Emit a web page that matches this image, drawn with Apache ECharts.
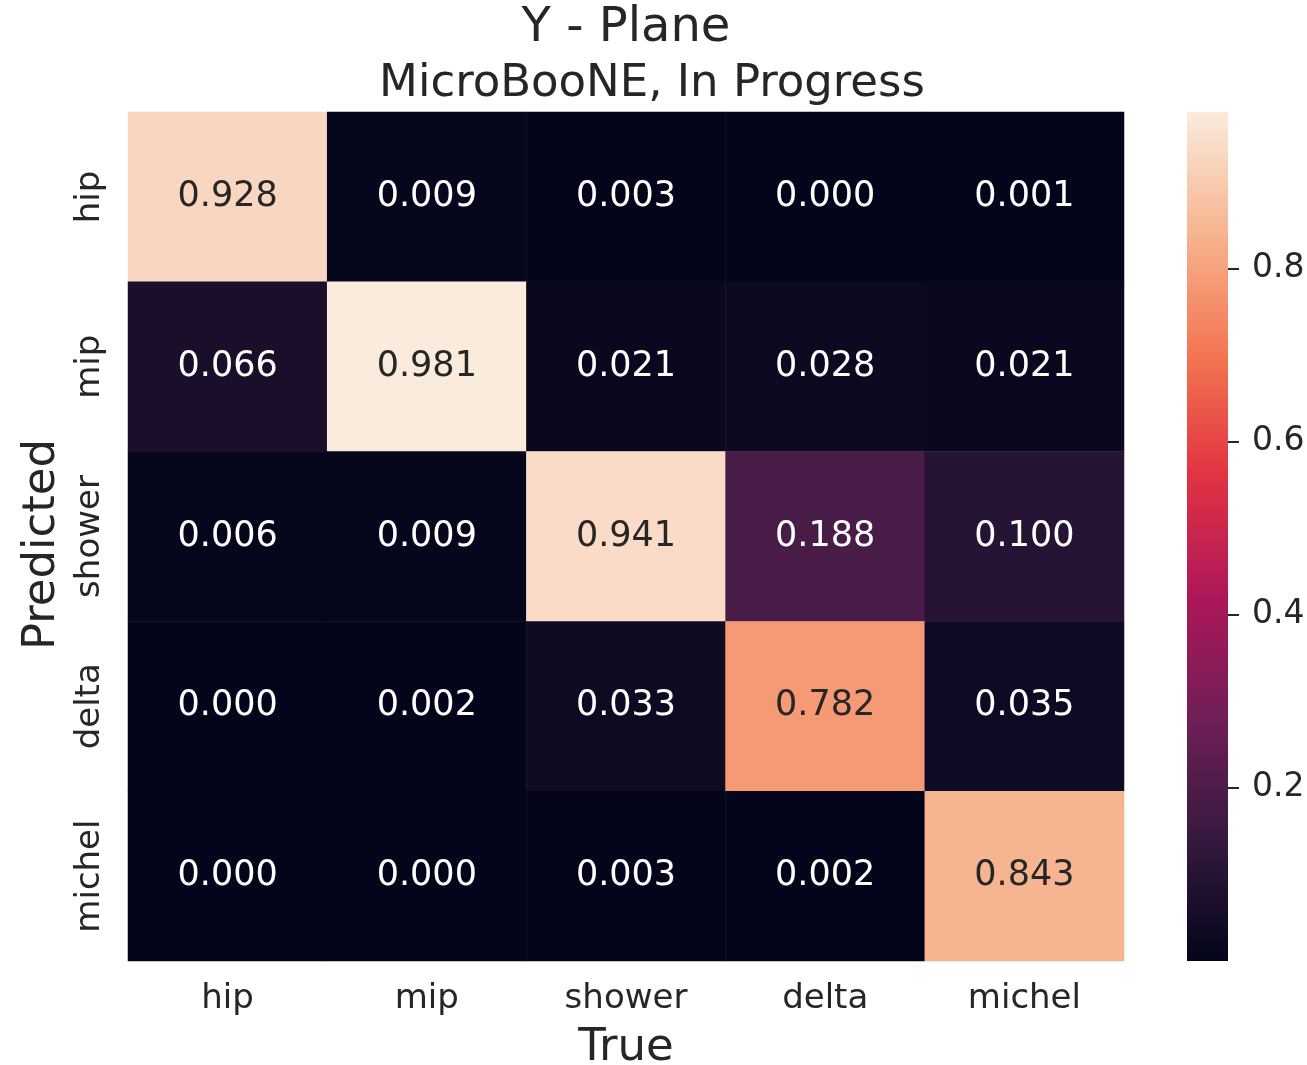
<!DOCTYPE html>
<html>
<head>
<meta charset="utf-8">
<title>Y - Plane confusion matrix</title>
<script src="https://cdn.jsdelivr.net/npm/echarts@6/dist/echarts.min.js"></script>
<style>
  html, body { margin: 0; padding: 0; background: #ffffff; }
  #chart { width: 1307px; height: 1065px; }
</style>
</head>
<body>
<div id="chart"></div>
<script>
// Class labels (x: true class, y: predicted class)
const trueLabels = ['hip', 'mip', 'shower', 'delta', 'michel'];
const predLabels = ['hip', 'mip', 'shower', 'delta', 'michel'];

// Normalised confusion matrix, one row per predicted class
const rowHip    = [0.928, 0.009, 0.003, 0.000, 0.001];
const rowMip    = [0.066, 0.981, 0.021, 0.028, 0.021];
const rowShower = [0.006, 0.009, 0.941, 0.188, 0.100];
const rowDelta  = [0.000, 0.002, 0.033, 0.782, 0.035];
const rowMichel = [0.000, 0.000, 0.003, 0.002, 0.843];
const matrix = [rowHip, rowMip, rowShower, rowDelta, rowMichel];

// Colour bar ticks
const cbTicks = [0.2, 0.4, 0.6, 0.8];

// "rocket" colormap, evenly spaced stops
const rocket = ['#03051a', '#35193e', '#701f57', '#ad1759', '#e13342', '#f37651', '#f6b48f', '#faebdd'];

const flat = matrix.flat();
const vMin = Math.min.apply(null, flat);
const vMax = Math.max.apply(null, flat);

const darkText = '#262626';
const font = 'DejaVu Sans';

const cells = [];
matrix.forEach(function (row, r) {
  row.forEach(function (v, c) {
    cells.push({
      value: [c, r, v],
      label: { color: v > 0.5 ? darkText : '#ffffff' }
    });
  });
});

const gridLeft = 128, gridTop = 112, gridW = 996, gridH = 849;

const chart = echarts.init(document.getElementById('chart'));
chart.setOption({
  animation: false,
  backgroundColor: '#ffffff',
  textStyle: { fontFamily: font, color: darkText },
  graphic: [
    {
      type: 'text', x: gridLeft + gridW / 2, y: 5,
      style: { text: 'Y - Plane', fontSize: 48, fontFamily: font, fill: darkText, align: 'center', verticalAlign: 'top' }
    },
    {
      type: 'text', x: 652, y: 62,
      style: { text: 'MicroBooNE, In Progress', fontSize: 45, fontFamily: font, fill: darkText, align: 'center', verticalAlign: 'top' }
    }
  ],
  grid: [
    { left: gridLeft, top: gridTop, width: gridW, height: gridH, outerBoundsMode: 'none', containLabel: false },
    {
      left: 1187, top: gridTop, width: 41, height: gridH, outerBoundsMode: 'none', containLabel: false,
      show: true, borderWidth: 0,
      backgroundColor: new echarts.graphic.LinearGradient(0, 1, 0, 0,
        rocket.map(function (c, i) { return { offset: i / (rocket.length - 1), color: c }; }))
    }
  ],
  xAxis: [
    {
      type: 'category', gridIndex: 0, data: trueLabels,
      axisLine: { show: false }, axisTick: { show: false }, splitLine: { show: false },
      axisLabel: { fontSize: 34, color: darkText, margin: 21, fontFamily: font },
      name: 'True', nameLocation: 'middle', nameGap: 65,
      nameTextStyle: { fontSize: 45, color: darkText, fontFamily: font }
    },
    { type: 'value', gridIndex: 1, show: false, min: 0, max: 1 }
  ],
  yAxis: [
    {
      type: 'category', gridIndex: 0, data: predLabels, inverse: true,
      axisLine: { show: false }, axisTick: { show: false }, splitLine: { show: false },
      axisLabel: { fontSize: 34, color: darkText, margin: 21, rotate: 90, fontFamily: font },
      name: 'Predicted', nameLocation: 'middle', nameGap: 61, nameRotate: 90,
      nameTextStyle: { fontSize: 45, color: darkText, fontFamily: font, padding: [0, 16, 0, 0] }
    },
    {
      type: 'value', gridIndex: 1, position: 'right', min: vMin, max: vMax,
      axisLine: { show: true, onZero: false, lineStyle: { color: 'rgba(0,0,0,0)' } }, splitLine: { show: false },
      axisTick: { show: true, inside: false, length: 11, customValues: cbTicks, lineStyle: { color: darkText, width: 2 } },
      axisLabel: {
        customValues: cbTicks, margin: 24, fontSize: 33, color: darkText, fontFamily: font,
        formatter: function (v) { return v.toFixed(1); }
      }
    }
  ],
  visualMap: {
    show: false, type: 'continuous', seriesIndex: 0, dimension: 2,
    min: vMin, max: vMax, inRange: { color: rocket }
  },
  series: [
    {
      type: 'heatmap', xAxisIndex: 0, yAxisIndex: 0, data: cells,
      label: {
        show: true, fontSize: 35, fontFamily: font,
        formatter: function (p) { return p.value[2].toFixed(3); }
      },
      emphasis: { disabled: true }
    }
  ]
});
</script>
</body>
</html>
